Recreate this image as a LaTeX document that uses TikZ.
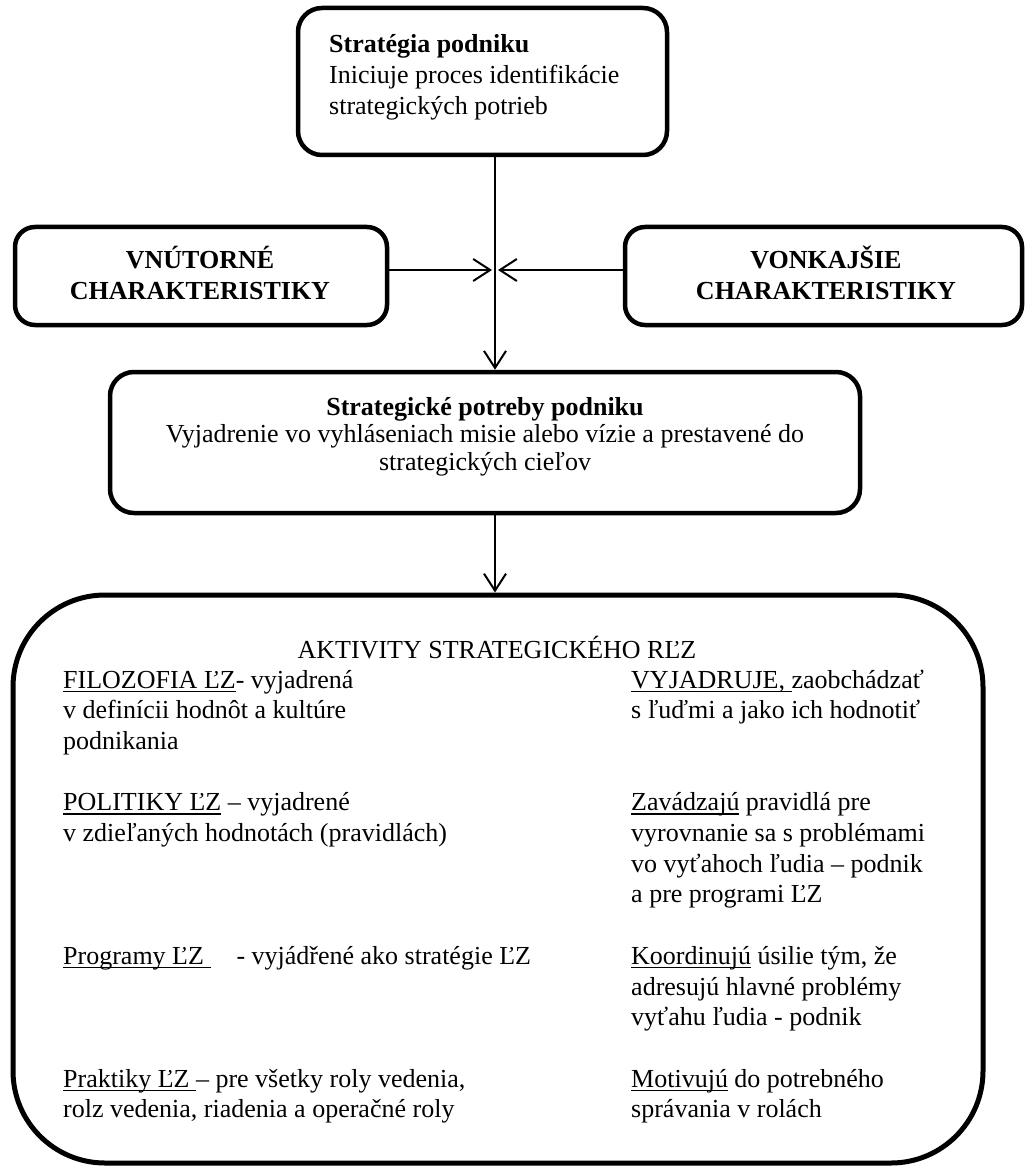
\documentclass[tikz,border=0pt]{standalone}
\usepackage{fontspec}
\setmainfont{Liberation Serif}
\usetikzlibrary{arrows.meta}

% underline at a fixed depth below the baseline
\newsavebox\undlbox
\newcommand\undl[1]{\sbox\undlbox{#1}\rlap{\rule[-4pt]{\wd\undlbox}{1.4pt}}\usebox{\undlbox}}
% text blocks whose baseline is the baseline of their first line
\newcommand\blockl[1]{\begin{tabular}[t]{@{}l@{}}#1\end{tabular}}
\newcommand\blockc[1]{\begin{tabular}[t]{@{}c@{}}#1\end{tabular}}

\begin{document}
\begin{tikzpicture}[x=1pt, y=-1pt,
  box/.style={draw, line width=4.5pt, rounded corners=24pt, inner sep=0pt, fill=white},
  bigbox/.style={draw, line width=5pt, rounded corners=92pt, inner sep=0pt},
  txt/.style={inner sep=0pt, font=\fontsize{26}{31}\selectfont},
  bodytxt/.style={inner sep=0pt, font=\fontsize{26}{30.7}\selectfont},
  arr/.style={line width=2pt, -{Straight Barb[length=17pt,width=22pt]}}]

\useasboundingbox (0,0) rectangle (1026,1166);

% boxes
\node[box, minimum width=369pt, minimum height=147pt] (top) at (482.5,81.5) {};
\node[box, rounded corners=20pt, minimum width=372pt, minimum height=98pt] (inner) at (201,276) {};
\node[box, rounded corners=20pt, minimum width=397pt, minimum height=98pt] (outer) at (823.5,276) {};
\node[box, minimum width=750pt, minimum height=141pt] (needs) at (485,442.5) {};
\node[bigbox, minimum width=970pt, minimum height=568pt] (acts) at (498,879) {};

% texts of the upper boxes
\node[txt, anchor=base west] (topT) at (329,53)
  {\blockl{\textbf{Stratégia podniku}\\Iniciuje proces identifikácie\\strategických potrieb}};
\node[txt, anchor=base, font=\fontsize{26}{31}\selectfont\bfseries] (innerT) at (200,268)
  {\blockc{VNÚTORNÉ\\CHARAKTERISTIKY}};
\node[txt, anchor=base, font=\fontsize{26}{31}\selectfont\bfseries] (outerT) at (826,268)
  {\blockc{VONKAJŠIE\\CHARAKTERISTIKY}};
\node[txt, anchor=base, font=\fontsize{26}{27.5}\selectfont] (needsT) at (485,415)
  {\blockc{\textbf{Strategické potreby podniku}\\Vyjadrenie vo vyhláseniach misie alebo vízie a prestavené do\\strategických cieľov}};

% texts of the activities box
\node[bodytxt, anchor=base] (actsT) at (497,658) {AKTIVITY STRATEGICKÉHO RĽZ};
\node[bodytxt, anchor=base west] (actsL) at (63,688)
  {\blockl{\undl{FILOZOFIA ĽZ}- vyjadrená\\
           v definícii hodnôt a kultúre\\
           podnikania\\
           \\
           \undl{POLITIKY ĽZ} – vyjadrené\\
           v zdieľaných hodnotách (pravidlách)\\
           \\ \\ \\
           \undl{Programy ĽZ\ }\hspace{26pt}- vyjádřené ako stratégie ĽZ\\
           \\ \\ \\
           \undl{Praktiky ĽZ\ }– pre všetky roly vedenia,\\
           rolz vedenia, riadenia a operačné roly}};
\node[bodytxt, anchor=base west] (actsR) at (631,688)
  {\blockl{\undl{VYJADRUJE,\ }zaobchádzať\\
           s ľuďmi a jako ich hodnotiť\\
           \\ \\
           \undl{Zavádzajú} pravidlá pre\\
           vyrovnanie sa s problémami\\
           vo vyťahoch ľudia – podnik\\
           a pre programi ĽZ\\
           \\
           \undl{Koordinujú} úsilie tým, že\\
           adresujú hlavné problémy\\
           vyťahu ľudia - podnik\\
           \\
           \undl{Motivujú} do potrebného\\
           správania v rolách}};

% connectors
\coordinate (jn) at (495,270);
\draw[arr] (top.south -| jn) -- (needs.north -| jn);
\draw[arr] (jn -| inner.east) -- ([xshift=-3pt]jn);
\draw[arr] (jn -| outer.west) -- ([xshift=3pt]jn);
\draw[arr] (needs.south -| jn) -- (acts.north -| jn);
\end{tikzpicture}
\end{document}
